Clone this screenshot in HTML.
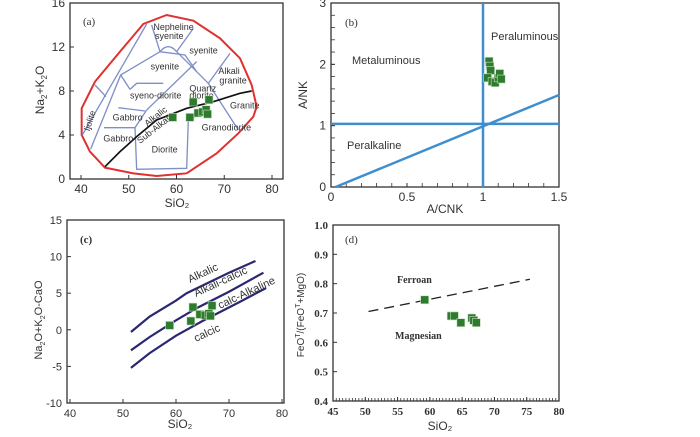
<!DOCTYPE html>
<html><head><meta charset="utf-8"><style>
body{margin:0;background:#fff}
svg text{font-family:"Liberation Sans",Arial,sans-serif;fill:#333}
.serif{font-family:"Liberation Serif",serif!important}
</style></head><body>
<svg id="s" width="700" height="432" viewBox="0 0 700 432" xmlns="http://www.w3.org/2000/svg">
<g id="pa-fields" transform="scale(0.33333)" fill="none">
<path stroke="#e03030" stroke-width="6" d="M245,325 L285,245 L360,155 L430,72 L500,45 L580,62 L660,115 L720,175 L755,255 L770,320 L760,350 L715,400 L650,460 L560,520 L470,528 L400,520 L315,503 L270,455 L245,405 Z"/>
<g stroke="#7f8fc8" stroke-width="4">
<path d="M247,405 L440,72"/><path d="M285,255 L318,290"/>
<path d="M272,447 L362,225 L480,155"/><path d="M362,225 L390,268"/>
<path d="M390,268 L410,250 L490,250"/><path d="M355,323 L435,333"/>
<path d="M312,383 L405,383"/><path d="M405,383 L440,330 L590,185"/>
<path d="M480,155 L555,165 L590,215"/><path d="M455,75 L480,155"/>
<path d="M580,85 L530,155"/><path d="M480,155 Q505,125 530,155"/>
<path d="M530,155 L625,250"/><path d="M625,250 L690,160"/>
<path d="M625,250 L715,390"/><path d="M405,383 L410,508 L560,505 L565,360 L625,330"/>
</g>
<path stroke="#111" stroke-width="5" d="M315,500 L360,455 L410,410 L470,360 L560,325 L640,305 L720,280 L755,273"/>
<g font-size="27" fill="#333" stroke="none">
<text x="460" y="90">Nepheline</text><text x="465" y="117">syenite</text>
<text x="568" y="160">syenite</text><text x="452" y="208">syenite</text>
<text x="655" y="222">Alkali</text><text x="658" y="250">granite</text>
<text x="390" y="295">syeno-diorite</text><text x="568" y="275">Quartz</text><text x="568" y="296">diorite</text>
<text x="690" y="325">Granite</text><text x="338" y="362">Gabbro</text><text x="310" y="425">Gabbro</text>
<text x="605" y="392">Granodiorite</text><text x="455" y="458">Diorite</text>
<text transform="translate(268,395) rotate(-72)">Ijolite</text>
<text transform="translate(442,380) rotate(-38)">Alkalic</text>
<text transform="translate(420,432) rotate(-38)">Sub-Alkalic</text>
</g>
</g>
<g id="root"></g>
</svg>
<script>
// Panel a data (SiO2, Na2O+K2O)
const aSi=[59.2,63.5,66.8,62.8,64.5,65.5,66.2,66.5];
const aAlk=[5.6,7.0,7.2,5.6,6.0,6.1,6.3,5.9];
const aXTicks=[40,50,60,70,80], aYTicks=[0,4,8,12,16];
// Panel b data
const bACNK=[1.04,1.045,1.05,1.03,1.06,1.08,1.1,1.11,1.12];
const bANK=[2.05,1.97,1.9,1.78,1.72,1.7,1.78,1.85,1.76];
const bXTicks=[0,0.5,1,1.5], bYTicks=[0,1,2,3];
// Panel c data
const cSi=[58.8,63.2,62.8,64.5,65.5,66.2,66.5,66.8];
const cMali=[0.6,3.1,1.2,2.1,2.0,2.2,1.9,3.3];
const cXTicks=[40,50,60,70,80], cYTicks=[-10,-5,0,5,10,15];
const cAlkalicX=[51.5,55,60,62,70,75], cAlkalicY=[-0.3,1.8,4,5,7.8,9.4];
const cAlkCalX=[51.5,55,60,64,70,76.5], cAlkCalY=[-2.8,-1,1.3,3,5.2,7.8];
const cCalcicX=[51.5,55,60,65,72,77], cCalcicY=[-5.2,-3.2,-0.8,1.2,3.8,5.7];
// Panel d data
const dSi=[59.2,63.3,63.8,64.8,66.5,66.8,67.2];
const dFe=[0.745,0.69,0.69,0.667,0.683,0.675,0.667];
const dXTicks=[45,50,55,60,65,70,75,80], dYTicks=[0.4,0.5,0.6,0.7,0.8,0.9,1.0];
const dLineX=[50.5,75.5], dLineY=[0.705,0.815];

const NS="http://www.w3.org/2000/svg", root=document.getElementById('root');
function mk(t,a,p){const e=document.createElementNS(NS,t);for(const k in a)e.setAttribute(k,a[k]);(p||root).appendChild(e);return e;}
function lin(d0,d1,r0,r1){return v=>r0+(v-d0)/(d1-d0)*(r1-r0);}
function frame(x0,y0,x1,y1,name){const r=mk('rect',{x:x0,y:y0,width:x1-x0,height:y1-y0,fill:'none',stroke:'#333','stroke-width':1.3});

}
function ticks(xs,ys,X,Y,x0,y0,x1,y1,fmtX,fmtY,cls,fs){
 xs.forEach(v=>{mk('line',{x1:X(v),x2:X(v),y1:y1,y2:y1-4,stroke:'#333'});
  const t=mk('text',{x:X(v),y:y1+14,'text-anchor':'middle','font-size':fs,class:cls,'font-weight':cls?'bold':'normal'});t.textContent=fmtX(v);
  
  });
 ys.forEach(v=>{mk('line',{x1:x0,x2:x0+4,y1:Y(v),y2:Y(v),stroke:'#333'});
  const t=mk('text',{x:x0-5,y:Y(v)+4,'text-anchor':'end','font-size':fs,class:cls,'font-weight':cls?'bold':'normal'});t.textContent=fmtY(v);
  
  });}
function minor(x0,x1,n,y,dir,vert){for(let i=1;i<n;i++){const p=x0+(x1-x0)*i/n;
 if(vert)mk('line',{x1:y,x2:y+dir,y1:p,y2:p,stroke:'#333','stroke-width':0.8});else mk('line',{x1:p,x2:p,y1:y,y2:y+dir,stroke:'#333','stroke-width':0.8});}}
function pts(xs,ys,X,Y,name){xs.forEach((v,i)=>{const r=mk('rect',{x:X(v)-4,y:Y(ys[i])-4,width:8,height:8,fill:'#2e7a2e',stroke:'#c8e0c0','stroke-width':0.6});
 
 });}
function txt(x,y,s,fs,extra){const t=mk('text',Object.assign({x:x,y:y,'font-size':fs},extra||{}));t.textContent=s;return t;}
function poly(xs,ys,X,Y,attrs){return mk('polyline',Object.assign({points:xs.map((v,i)=>X(v)+','+Y(ys[i])).join(' '),fill:'none'},attrs));}

// ---- Panel a
{const X=lin(40,80,81,272),Y=lin(0,16,179,3);
frame(70,3,283,179,'panel-a-frame');
ticks(aXTicks,aYTicks,X,Y,70,3,283,179,v=>v,v=>v,'',12);
pts(aSi,aAlk,X,Y,'tas-sample');
const l=txt(83,25,'(a)',11,{class:'serif'});
const xt=txt(177,207,'SiO₂',12,{'text-anchor':'middle'});
const yt=txt(0,0,'',12,{transform:'translate(44,90) rotate(-90)','text-anchor':'middle'});yt.innerHTML='Na<tspan font-size="8" dy="3">2</tspan><tspan dy="-3">+K</tspan><tspan font-size="8" dy="3">2</tspan><tspan dy="-3">O</tspan>';
}

// ---- Panel b
{const X=lin(0,1.5,331,559),Y=lin(0,3,187,3);
frame(331,3,559,187,'panel-b-frame');
ticks(bXTicks,bYTicks,X,Y,331,3,559,187,v=>v,v=>v,'',12);
minor(331,559,15,187,-4,false);minor(187,3,15,331,4,true);
const bl={stroke:'#3f8fcf','stroke-width':2.5};
mk('line',Object.assign({x1:X(1),x2:X(1),y1:3,y2:187},bl));
mk('line',Object.assign({x1:331,x2:559,y1:Y(1.03),y2:Y(1.03)},bl));
mk('line',Object.assign({x1:X(0.03),x2:X(1.5),y1:Y(0),y2:Y(1.5)},bl));
pts(bACNK,bANK,X,Y,'acnk-sample');
txt(345,26,'(b)',11,{class:'serif'});
txt(352,64,'Metaluminous',11);txt(491,40,'Peraluminous',11);txt(347,149,'Peralkaline',11);
const xt=txt(445,213,'A/CNK',12,{'text-anchor':'middle'});
const yt=txt(0,0,'A/NK',12,{transform:'translate(307,95) rotate(-90)','text-anchor':'middle'});}

// ---- Panel c
{const X=lin(40,80,70,282),Y=lin(-10,15,403,220);
frame(67,220,284,403,'panel-c-frame');
ticks(cXTicks,cYTicks,X,Y,67,220,284,403,v=>v,v=>v,'',11);
const nv={stroke:'#2a2870','stroke-width':2.2};
poly(cAlkalicX,cAlkalicY,X,Y,nv);poly(cAlkCalX,cAlkCalY,X,Y,nv);poly(cCalcicX,cCalcicY,X,Y,nv);
pts(cSi,cMali,X,Y,'malI-sample');
txt(80,243,'(c)',11,{class:'serif','font-weight':'bold'});
txt(0,0,'Alkalic',11,{transform:'translate(190,283) rotate(-25)'});
txt(0,0,'Alkali-calcic',11,{transform:'translate(196,297) rotate(-25)'});
txt(0,0,'calc-Alkaline',11,{transform:'translate(220,309) rotate(-25)'});
txt(0,0,'calcic',11,{transform:'translate(196,342) rotate(-25)'});
const xt=txt(180,428,'SiO₂',12,{'text-anchor':'middle'});
const yt=txt(0,0,'',11,{transform:'translate(42,320) rotate(-90)','text-anchor':'middle'});yt.innerHTML='Na<tspan font-size="7" dy="3">2</tspan><tspan dy="-3">O+K</tspan><tspan font-size="7" dy="3">2</tspan><tspan dy="-3">O-CaO</tspan>';
}

// ---- Panel d
{const X=lin(45,80,333,559),Y=lin(0.4,1.0,401,225);
frame(333,225,559,401,'panel-d-frame');
ticks(dXTicks,dYTicks,X,Y,333,225,559,401,v=>v,v=>v.toFixed(1),'serif',11);
minor(333,559,70,401,-3,false);
mk('line',{x1:X(dLineX[0]),y1:Y(dLineY[0]),x2:X(dLineX[1]),y2:Y(dLineY[1]),stroke:'#222','stroke-width':1.3,'stroke-dasharray':'10,6'});
pts(dSi,dFe,X,Y,'fe-number-sample');
txt(345,243,'(d)',11,{class:'serif'});
txt(397,283,'Ferroan',10,{class:'serif','font-weight':'bold'});
txt(395,339,'Magnesian',10,{class:'serif','font-weight':'bold'});
const xt=txt(440,430,'SiO₂',12,{'text-anchor':'middle'});
const yt=txt(0,0,'',10,{transform:'translate(304,315) rotate(-90)','text-anchor':'middle'});yt.innerHTML='FeO<tspan font-size="7" dy="-4">T</tspan><tspan dy="4">/(FeO</tspan><tspan font-size="7" dy="-4">T</tspan><tspan dy="4">+MgO)</tspan>';
}
</script>
</body></html>
